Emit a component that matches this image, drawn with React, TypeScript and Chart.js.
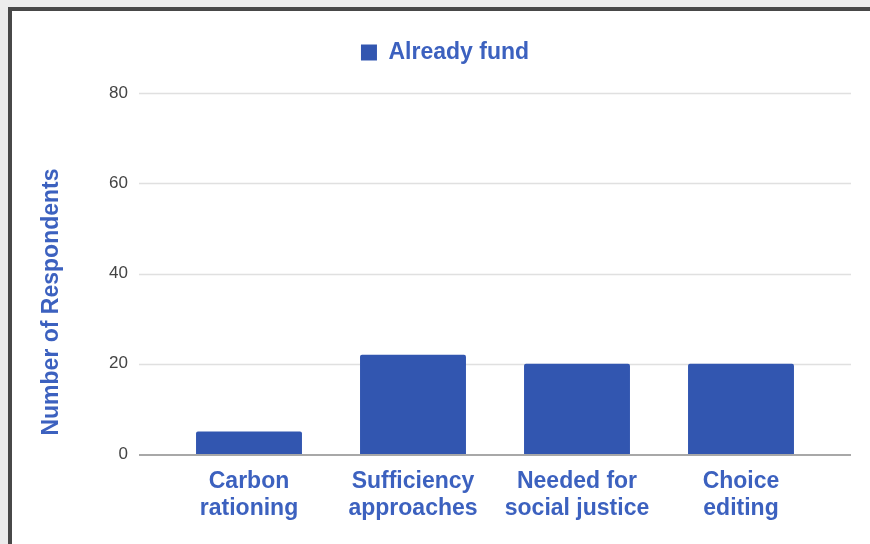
import React, { useEffect, useRef } from "react";
import { Chart, registerables } from "chart.js";

Chart.register(...registerables);

const categories: string[][] = [
  ["Carbon", "rationing"],
  ["Sufficiency", "approaches"],
  ["Needed for", "social justice"],
  ["Choice", "editing"],
];
const alreadyFund: number[] = [5, 22, 20, 20];
const seriesLabel = "Already fund";
const yAxisTitle = "Number of Respondents";
const yTicks: number[] = [0, 20, 40, 60, 80];

const BAR = "#3256b0";
const BLUE_TEXT = "#3c61bf";
const FONT = "'Liberation Sans', Arial, sans-serif";

const gridPlugin = {
  id: "extendedGrid",
  beforeDatasetsDraw(chart: any) {
    const { ctx, chartArea, scales } = chart;
    const y = scales.y;
    ctx.save();
    ctx.lineWidth = 1.5;
    ctx.strokeStyle = "#e0e0e0";
    for (const v of yTicks) {
      if (v === 0) continue;
      const py = Math.round(y.getPixelForValue(v)) + 0.5;
      ctx.beginPath();
      ctx.moveTo(chartArea.left - 28, py);
      ctx.lineTo(chartArea.right + 28, py);
      ctx.stroke();
    }
    ctx.restore();
  },
  afterDatasetsDraw(chart: any) {
    const { ctx, chartArea, scales } = chart;
    const y = scales.y;
    ctx.save();
    ctx.lineWidth = 2;
    ctx.strokeStyle = "#a8a8a8";
    const py = Math.round(y.getPixelForValue(0)) + 1;
    ctx.beginPath();
    ctx.moveTo(chartArea.left - 28, py);
    ctx.lineTo(chartArea.right + 28, py);
    ctx.stroke();
    // y axis title
    ctx.translate(chartArea.left - 115, chartArea.bottom - 152);
    ctx.rotate(-Math.PI / 2);
    ctx.fillStyle = BLUE_TEXT;
    ctx.font = `bold 23px ${FONT}`;
    ctx.textAlign = "center";
    ctx.textBaseline = "middle";
    ctx.fillText(yAxisTitle, 0, 0);
    ctx.restore();
  },
};

const legendSpacer = {
  id: "legendSpacer",
  beforeLayout(chart: any) {
    const lg = chart.legend;
    if (lg && !lg.__patched) {
      const orig = lg.fit.bind(lg);
      lg.fit = () => {
        orig();
        lg.height += 19;
      };
      lg.__patched = true;
    }
  },
};

export default function App() {
  const ref = useRef<HTMLCanvasElement | null>(null);

  useEffect(() => {
    if (!ref.current) return;
    const chart = new Chart(ref.current, {
      type: "bar",
      data: {
        labels: categories,
        datasets: [
          {
            label: seriesLabel,
            data: alreadyFund,
            backgroundColor: BAR,
            borderWidth: 0,
            borderRadius: 2,
            categoryPercentage: 1,
            barPercentage: 0.646,
          },
        ],
      },
      options: {
        responsive: false,
        animation: false,
        layout: { padding: { left: 67, right: 47, top: 31, bottom: 0 } },
        plugins: {
          tooltip: { enabled: false },
          legend: {
            position: "top",
            align: "center",
            labels: {
              boxWidth: 16,
              boxHeight: 16,
              padding: 10,
              color: BLUE_TEXT,
              font: { family: FONT, size: 23, weight: "bold" },
            },
          },
        },
        scales: {
          x: {
            grid: { display: false, drawTicks: false },
            border: { display: false },
            ticks: {
              color: BLUE_TEXT,
              padding: 14,
              maxRotation: 0,
              autoSkip: false,
              font: { family: FONT, size: 23, weight: "bold", lineHeight: 1.17 },
            },
            afterFit: (s: any) => {
              s.height = 90;
            },
          },
          y: {
            min: 0,
            max: 80,
            grid: { display: false, drawTicks: false },
            border: { display: false },
            ticks: {
              stepSize: 20,
              padding: 39,
              color: "#444444",
              font: { family: FONT, size: 17 },
            },
            afterFit: (s: any) => {
              s.width = 100;
            },
          },
        },
      },
      plugins: [gridPlugin, legendSpacer],
    });
    return () => chart.destroy();
  }, []);

  return (
    <div
      style={{
        position: "fixed",
        left: 0,
        top: 0,
        width: 870,
        height: 544,
        background: "#ececec",
        overflow: "hidden",
      }}
    >
      <div
        style={{
          position: "absolute",
          left: 8,
          top: 7,
          width: 900,
          height: 600,
          borderLeft: "4px solid #484848",
          borderTop: "4px solid #484848",
          background: "#ffffff",
        }}
      />
      <canvas
        ref={ref}
        width={870}
        height={544}
        style={{ position: "absolute", left: 0, top: 0, width: 870, height: 544 }}
      />
    </div>
  );
}
